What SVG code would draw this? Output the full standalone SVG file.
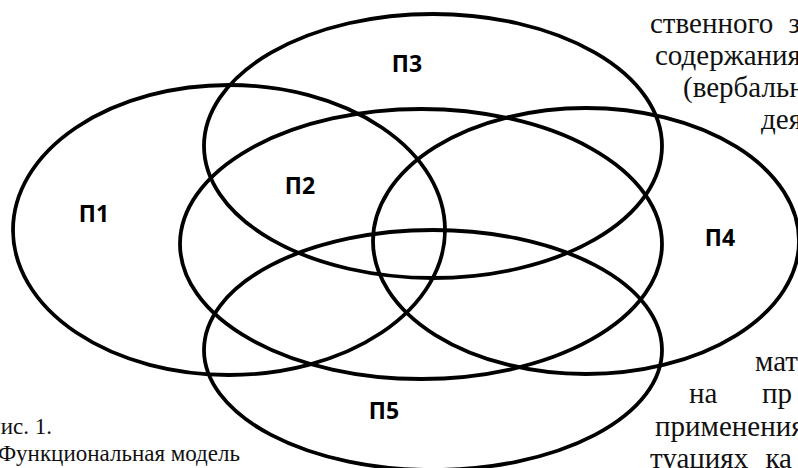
<svg xmlns="http://www.w3.org/2000/svg" width="798" height="468" viewBox="0 0 798 468">
<style>
.set{fill:none;stroke:#000;stroke-width:3.8}
.lbl{font-family:"Open Sans","Liberation Sans",sans-serif;font-weight:bold;font-size:23px;fill:#000;text-anchor:middle}
.body{font-family:"Liberation Serif","DejaVu Serif",serif;font-size:29px;fill:#111}
.cap{font-family:"Liberation Serif","DejaVu Serif",serif;font-size:23px;fill:#111}
</style>
<rect width="798" height="468" fill="#fff"/>
<g id="text">
<text class="body" x="650" y="33" word-spacing="8">ственного з</text>
<text class="body" x="655" y="65">содержания</text>
<text class="body" x="683" y="97">(вербальн</text>
<text class="body" x="761" y="129">дея</text>
<text class="body" x="755" y="371">мат</text>
<text class="body" x="689" y="403">на</text>
<text class="body" x="762" y="403">пр</text>
<text class="body" x="655" y="436">применения</text>
<text class="body" x="650" y="468" word-spacing="10">туациях ка</text>
<text class="cap" x="52" y="434" text-anchor="end">Рис. 1.</text>
<text class="cap" x="240" y="461" text-anchor="end">Функциональная модель</text>
</g>
<g id="P1"><ellipse class="set" cx="229" cy="230" rx="216" ry="145"/><text class="lbl" x="94" y="222">П1</text></g>
<g id="P2"><ellipse class="set" cx="421" cy="244" rx="241" ry="135"/><text class="lbl" x="300" y="194">П2</text></g>
<g id="P3"><ellipse class="set" cx="433" cy="146" rx="229" ry="132"/><text class="lbl" x="407" y="72">П3</text></g>
<g id="P4"><ellipse class="set" cx="586" cy="241" rx="213" ry="133"/><text class="lbl" x="720" y="246">П4</text></g>
<g id="P5"><ellipse class="set" cx="433" cy="350" rx="229" ry="120"/><text class="lbl" x="384" y="419">П5</text></g>
</svg>
